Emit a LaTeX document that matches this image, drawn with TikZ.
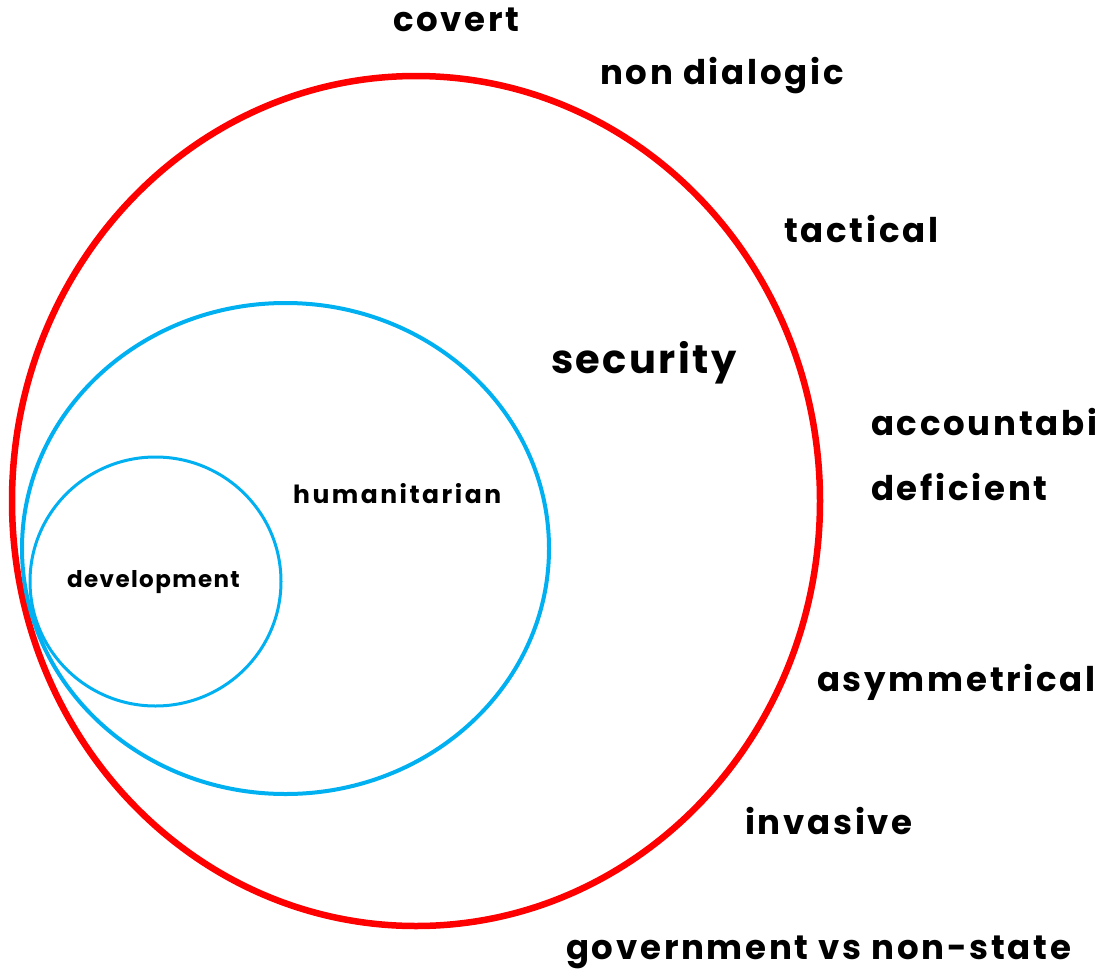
\documentclass[tikz,border=0pt]{standalone}
\usepackage{fontspec}
\setmainfont{Poppins}[LetterSpace=8]
\definecolor{ringred}{RGB}{255,0,0}
\definecolor{ringblue}{RGB}{0,176,240}
\begin{document}
\begin{tikzpicture}[x=1pt,y=-1pt,
  big/.style={anchor=base west,inner sep=0pt,font=\fontsize{34}{40}\selectfont\bfseries},
  huge/.style={anchor=base west,inner sep=0pt,font=\fontsize{40}{46}\selectfont\bfseries\addfontfeatures{LetterSpace=6}},
  small/.style={anchor=base west,inner sep=0pt,font=\fontsize{23}{28}\selectfont\bfseries\addfontfeatures{LetterSpace=6}},
  mid/.style={anchor=base west,inner sep=0pt,font=\fontsize{25}{30}\selectfont\bfseries\addfontfeatures{LetterSpace=10}}]
\useasboundingbox (0,0) rectangle (1095,969);
\draw[ringred,line width=6.5pt] (416,501) ellipse [x radius=404, y radius=425];
\draw[ringblue,line width=4pt] (285.5,548.5) ellipse [x radius=263.5, y radius=245.5];
\draw[ringblue,line width=3pt] (155.5,581.5) ellipse [x radius=125.5, y radius=124.5];
\node[big] (covert) at (393,31) {covert};
\node[big] (nondialogic) at (600,84) {non dialogic};
\node[big] (tactical) at (784,242) {tactical};
\node[huge] (security) at (551,373) {security};
\node[big] (accountable) at (871,435) {accountability};
\node[big] (deficient) at (871,500) {deficient};
\node[big] (asym) at (817,691) {asymmetrical};
\node[big] (invasive) at (745,834) {invasive};
\node[big] (gov) at (566,959) {government vs non-state};
\node[mid] (hum) at (293,503) {humanitarian};
\node[small] (dev) at (67,587) {development};
\end{tikzpicture}
\end{document}
